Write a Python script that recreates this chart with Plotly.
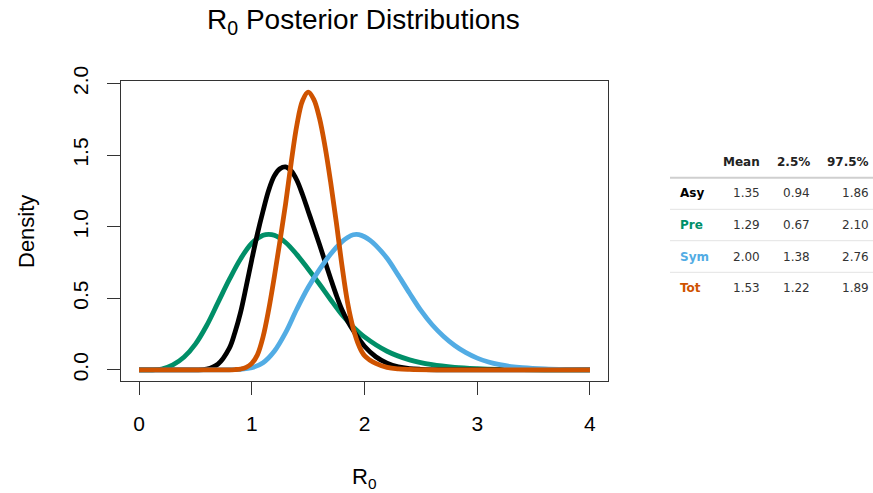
import plotly.graph_objects as go

# ---------------- data ----------------
asy_x = [0.0, 0.4, 0.5, 0.6, 0.7, 0.8, 0.85, 0.9, 0.95, 1.0, 1.05, 1.1, 1.15, 1.2, 1.25, 1.3, 1.35, 1.4, 1.45, 1.5, 1.55, 1.6, 1.65, 1.7, 1.75, 1.8, 1.85, 1.9, 2.0, 2.1, 2.2, 2.3, 2.4, 2.5, 2.7, 3.0, 4.0]
asy_y = [0.0, 0.0, 0.0, 0.005, 0.04, 0.15, 0.26, 0.40, 0.58, 0.77, 0.95, 1.11, 1.255, 1.355, 1.405, 1.418, 1.39, 1.325, 1.225, 1.11, 0.995, 0.877, 0.757, 0.637, 0.522, 0.42, 0.34, 0.275, 0.165, 0.092, 0.047, 0.021, 0.009, 0.004, 0.0, 0.0, 0.0]

pre_x = [0.0, 0.1, 0.2, 0.3, 0.4, 0.5, 0.6, 0.7, 0.8, 0.9, 1.0, 1.1, 1.15, 1.2, 1.3, 1.4, 1.5, 1.6, 1.7, 1.8, 1.9, 2.0, 2.2, 2.4, 2.6, 2.8, 3.0, 3.2, 3.4, 3.7, 4.0]
pre_y = [0.0, 0.0, 0.006, 0.035, 0.09, 0.18, 0.31, 0.47, 0.63, 0.775, 0.885, 0.94, 0.947, 0.94, 0.89, 0.805, 0.705, 0.60, 0.49, 0.385, 0.30, 0.23, 0.13, 0.07, 0.036, 0.018, 0.009, 0.004, 0.002, 0.0, 0.0]

sym_x = [0.0, 0.6, 0.8, 0.9, 1.0, 1.1, 1.2, 1.3, 1.4, 1.5, 1.6, 1.7, 1.8, 1.85, 1.9, 1.95, 2.0, 2.05, 2.1, 2.2, 2.3, 2.4, 2.5, 2.6, 2.7, 2.8, 2.9, 3.0, 3.1, 3.2, 3.3, 3.4, 3.6, 3.8, 4.0]
sym_y = [0.0, 0.0, 0.001, 0.004, 0.015, 0.05, 0.13, 0.26, 0.425, 0.575, 0.70, 0.81, 0.895, 0.925, 0.944, 0.945, 0.93, 0.905, 0.87, 0.78, 0.66, 0.535, 0.415, 0.315, 0.235, 0.17, 0.12, 0.082, 0.055, 0.036, 0.023, 0.015, 0.006, 0.002, 0.0]

tot_x = [0.0, 0.4, 0.6, 0.8, 0.85, 0.9, 0.95, 1.0, 1.05, 1.1, 1.15, 1.2, 1.25, 1.3, 1.35, 1.4, 1.45, 1.5, 1.55, 1.6, 1.65, 1.7, 1.75, 1.8, 1.85, 1.9, 1.95, 2.0, 2.1, 2.2, 2.3, 2.4, 2.6, 3.0, 4.0]
tot_y = [0.0, 0.0, 0.0, 0.0, 0.002, 0.006, 0.017, 0.045, 0.105, 0.23, 0.42, 0.65, 0.90, 1.16, 1.45, 1.71, 1.88, 1.94, 1.89, 1.76, 1.56, 1.31, 1.03, 0.73, 0.47, 0.29, 0.17, 0.10, 0.045, 0.018, 0.007, 0.003, 0.0, 0.0, 0.0]

series_names = ["Pre", "Asy", "Sym", "Tot"]
series_x = {"Asy": asy_x, "Pre": pre_x, "Sym": sym_x, "Tot": tot_x}
series_y = {"Asy": asy_y, "Pre": pre_y, "Sym": sym_y, "Tot": tot_y}
series_colors = {"Asy": "#000000", "Pre": "#008F68", "Sym": "#52ACE4", "Tot": "#CF5300"}

x_ticks = [0, 1, 2, 3, 4]
y_ticks = [0.0, 0.5, 1.0, 1.5, 2.0]
y_tick_labels = ["0.0", "0.5", "1.0", "1.5", "2.0"]

table_rows = ["Asy", "Pre", "Sym", "Tot"]
table_header = ["Mean", "2.5%", "97.5%"]
table_mean = ["1.35", "1.29", "2.00", "1.53"]
table_lo = ["0.94", "0.67", "1.38", "1.22"]
table_hi = ["1.86", "2.10", "2.76", "1.89"]

# ---------------- layout geometry ----------------
W, H = 873, 493
L, R, T, B = 121, 608, 81, 381

def px(xp):
    return (xp - L) / (R - L)

def py(yp):
    return (B - yp) / (B - T)

FONT = "Liberation Sans, Arial, Helvetica, sans-serif"
TFONT = "DejaVu Sans, Verdana, sans-serif"

fig = go.Figure()
for name in series_names:
    fig.add_trace(go.Scatter(
        x=series_x[name], y=series_y[name], mode="lines", name=name,
        line=dict(color=series_colors[name], width=4.8, shape="spline", smoothing=1.0),
        showlegend=False, hoverinfo="skip"))

fig.update_layout(
    width=W, height=H,
    margin=dict(l=L, r=W - R, t=T, b=H - B, pad=0),
    paper_bgcolor="white", plot_bgcolor="white",
    font=dict(family=FONT, color="black", size=21),
    showlegend=False,
)
fig.update_xaxes(
    range=[-0.16, 4.16], tickvals=x_ticks, ticktext=[str(v) for v in x_ticks],
    ticks="outside", ticklen=13, tickwidth=1.3, tickcolor="#333",
    showline=True, mirror=True, linecolor="#333", linewidth=1.3,
    showgrid=False, zeroline=False, tickfont=dict(size=21), ticklabelstandoff=11,
)
fig.update_yaxes(
    range=[-0.0777, 2.018], tickvals=y_ticks, ticktext=y_tick_labels,
    ticks="outside", ticklen=13, tickwidth=1.3, tickcolor="#333",
    showline=True, mirror=True, linecolor="#333", linewidth=1.3,
    showgrid=False, zeroline=False, tickfont=dict(size=21), tickangle=-90,
    ticklabelstandoff=10,
)

ann = []
ann.append(dict(text="R<sub>0</sub> Posterior Distributions", x=px(363), y=py(22),
                xref="paper", yref="paper", xanchor="center", yanchor="middle",
                showarrow=False, font=dict(size=28, family=FONT, color="black")))
ann.append(dict(text="R<sub>0</sub>", x=px(364), y=py(478),
                xref="paper", yref="paper", xanchor="center", yanchor="middle",
                showarrow=False, font=dict(size=22, family=FONT, color="black")))
ann.append(dict(text="Density", x=px(26), y=py(232), textangle=-90,
                xref="paper", yref="paper", xanchor="center", yanchor="middle",
                showarrow=False, font=dict(size=22, family=FONT, color="black")))

col_right = [761.7, 812.3, 870.7]
header_y = 161.7
row_y = [193.3, 225.0, 256.7, 287.7]
line_y = [177.7, 209.3, 240.7, 272.3]
for j, h in enumerate(table_header):
    ann.append(dict(text="<b>%s</b>" % h, x=px(col_right[j]), y=py(header_y),
                    xref="paper", yref="paper", xanchor="right", yanchor="middle",
                    showarrow=False, font=dict(size=12, family=TFONT, color="#222")))
cols = [table_mean, table_lo, table_hi]
for i, rname in enumerate(table_rows):
    ann.append(dict(text="<b>%s</b>" % rname, x=px(678), y=py(row_y[i]),
                    xref="paper", yref="paper", xanchor="left", yanchor="middle",
                    showarrow=False, font=dict(size=12, family=TFONT, color=series_colors[rname])))
    for j, col in enumerate(cols):
        ann.append(dict(text=col[i], x=px(col_right[j]), y=py(row_y[i]),
                        xref="paper", yref="paper", xanchor="right", yanchor="middle",
                        showarrow=False, font=dict(size=12, family=TFONT, color="#333")))

shapes = []
for k, ly in enumerate(line_y):
    shapes.append(dict(type="line", xref="paper", yref="paper",
                       x0=px(670), x1=px(873), y0=py(ly), y1=py(ly),
                       line=dict(color="#cfcfcf" if k == 0 else "#e3e3e3", width=2 if k == 0 else 1)))

fig.update_layout(annotations=ann, shapes=shapes)
fig.write_html("out.html", config={"displayModeBar": False},
               post_script="document.body.style.margin='0';document.body.style.overflow='hidden';")
